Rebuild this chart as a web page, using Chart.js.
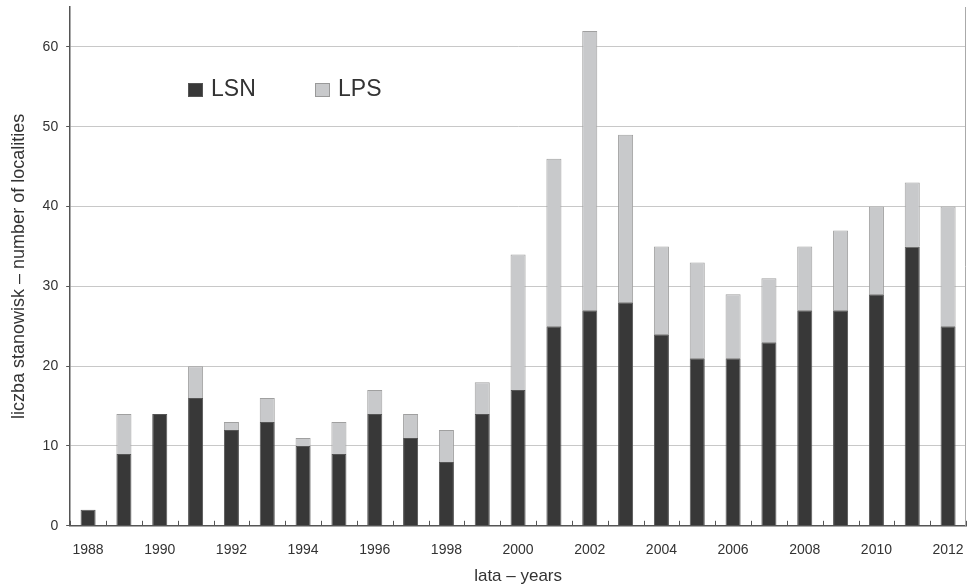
<!DOCTYPE html>
<html>
<head>
<meta charset="utf-8">
<script src="https://cdn.jsdelivr.net/npm/chart.js@4"></script>
<style>
  html, body { margin: 0; padding: 0; background: #fff; }
  #wrap { position: relative; width: 968px; height: 586px; }
  .legend { position: absolute; top: 75px; font-family: "Liberation Sans", Arial, sans-serif; font-size: 23px; line-height: 26px; color: #333; display: flex; align-items: center; }
  .legend span.box { display: inline-block; width: 15px; height: 14px; margin-right: 8px; margin-top: 3px; box-sizing: border-box; }
</style>
</head>
<body>
<div id="wrap">
  <canvas id="chart" width="968" height="586"></canvas>
  <div class="legend" style="left:188px"><span class="box" style="background:#383838;border:1px solid #555"></span>LSN</div>
  <div class="legend" style="left:315px"><span class="box" style="background:#c8c9cb;border:1px solid #999"></span>LPS</div>
</div>
<script>
// years on the x axis
const years = ['1988','1989','1990','1991','1992','1993','1994','1995','1996','1997','1998','1999',
               '2000','2001','2002','2003','2004','2005','2006','2007','2008','2009','2010','2011','2012'];
// LSN counts (dark, bottom part of each bar)
const lsn = [2, 9, 14, 16, 12, 13, 10, 9, 14, 11, 8, 14, 17, 25, 27, 28, 24, 21, 21, 23, 27, 27, 29, 35, 25];
// LPS counts (light, stacked on top)
const lps = [0, 5, 0, 4, 1, 3, 1, 4, 3, 3, 4, 4, 17, 21, 35, 21, 11, 12, 8, 8, 8, 10, 11, 8, 15];
const yTicks = [0, 10, 20, 30, 40, 50, 60];

// short tick marks pointing up from the x axis, between categories, plus right border
const innerTicks = {
    id: 'innerTicks',
    afterDatasetsDraw(chart) {
        const ctx = chart.ctx;
        const x = chart.scales.x;
        const area = chart.chartArea;
        ctx.save();
        ctx.strokeStyle = '#555';
        ctx.lineWidth = 1;
        for (let i = 0; i <= years.length; i++) {
            const px = Math.round(x.getPixelForValue(i - 0.5)) + 0.5;
            ctx.beginPath();
            ctx.moveTo(px, area.bottom);
            ctx.lineTo(px, area.bottom - 5);
            ctx.stroke();
        }
        ctx.strokeStyle = '#aaa';
        ctx.beginPath();
        ctx.moveTo(Math.round(area.right) - 0.5, area.top);
        ctx.lineTo(Math.round(area.right) - 0.5, area.bottom);
        ctx.stroke();
        ctx.restore();
    }
};

new Chart(document.getElementById('chart'), {
    type: 'bar',
    data: {
        labels: years,
        datasets: [
            {
                label: 'LSN',
                data: lsn,
                backgroundColor: '#383838',
                borderColor: '#555',
                borderWidth: 1,
                categoryPercentage: 1,
                barPercentage: 0.42
            },
            {
                label: 'LPS',
                data: lps,
                backgroundColor: '#c8c9cb',
                borderColor: '#a0a0a0',
                borderWidth: 1,
                categoryPercentage: 1,
                barPercentage: 0.42
            }
        ]
    },
    options: {
        responsive: false,
        animation: false,
        layout: { autoPadding: false, padding: { left: 8, right: 2, top: 7, bottom: -1 } },
        plugins: {
            legend: { display: false },
            tooltip: { enabled: false }
        },
        scales: {
            x: {
                stacked: true,
                grid: { display: false },
                border: { color: '#555', width: 1.5 },
                afterFit: function(scale) {
                    scale.paddingLeft = 0;
                    scale.paddingRight = 0;
                },
                ticks: {
                    autoSkip: false,
                    maxRotation: 0,
                    color: '#333',
                    padding: 8,
                    font: { family: 'Liberation Sans', size: 14 },
                    callback: function(value, index) {
                        return index % 2 === 0 ? years[index] : '';
                    }
                },
                title: {
                    display: true,
                    text: 'lata – years',
                    color: '#333',
                    font: { family: 'Liberation Sans', size: 17 },
                    padding: { top: 0, bottom: 0 }
                }
            },
            y: {
                stacked: true,
                min: 0,
                max: 65,
                afterBuildTicks: function(axis) {
                    axis.ticks = yTicks.map(v => ({ value: v }));
                },
                afterFit: function(scale) {
                    scale.paddingTop = 0;
                    scale.paddingBottom = 0;
                },
                grid: {
                    color: '#c8c8c8',
                    tickColor: '#555',
                    tickLength: 4
                },
                border: { color: '#555', width: 1.5 },
                ticks: {
                    color: '#333',
                    padding: 8,
                    font: { family: 'Liberation Sans', size: 14 }
                },
                title: {
                    display: true,
                    text: 'liczba stanowisk – number of localities',
                    color: '#333',
                    font: { family: 'Liberation Sans', size: 18 },
                    padding: { top: 0, bottom: 5 }
                }
            }
        }
    },
    plugins: [innerTicks]
});
</script>
</body>
</html>
